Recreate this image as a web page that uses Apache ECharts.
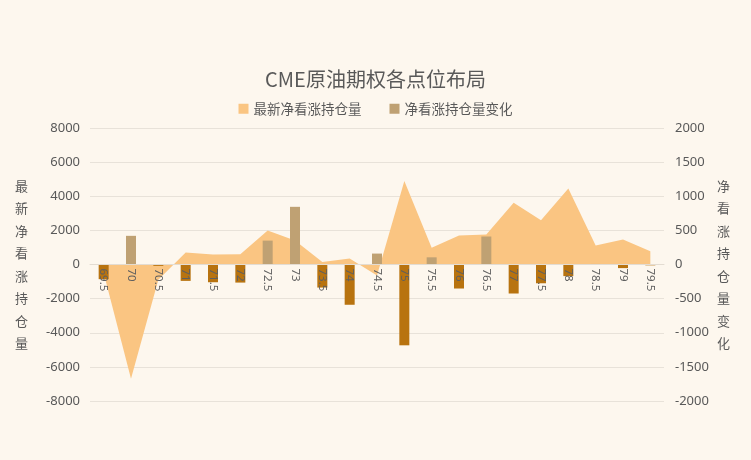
<!DOCTYPE html>
<html>
<head>
<meta charset="utf-8">
<script src="https://cdn.jsdelivr.net/npm/echarts@6/dist/echarts.min.js"></script>
<style>
html,body{margin:0;padding:0;background:#FDF7EE;}
#main{width:751px;height:460px;}
</style>
</head>
<body>
<div id="main"></div>
<script>
const categories = ['69.5','70','70.5','71','71.5','72','72.5','73','73.5','74','74.5','75','75.5','76','76.5','77','77.5','78','78.5','79','79.5'];
const netCallPosition = [-500,-6700,-900,700,580,600,2000,1400,150,350,-650,4900,980,1700,1760,3620,2600,4450,1110,1460,780];
const netCallChange = [-215,420,-20,-240,-260,-265,350,845,-338,-590,160,-1184,105,-352,410,-425,-275,-170,8,-53,-12];
const leftTicks = {min:-8000,max:8000,interval:2000};
const rightTicks = {min:-2000,max:2000,interval:500};

const textColor = '#595959';
const chart = echarts.init(document.getElementById('main'));
chart.setOption({
  backgroundColor:'#FDF7EE',
  title:{text:'CME原油期权各点位布局',left:'center',top:64,textStyle:{fontSize:20,fontWeight:'normal',color:textColor,fontFamily:'Noto Sans CJK SC'}},
  legend:{top:97,left:'center',itemWidth:10,itemHeight:10,itemGap:28,icon:'rect',
    textStyle:{fontSize:13.5,color:textColor,fontFamily:'Noto Sans CJK SC'},
    data:['最新净看涨持仓量','净看涨持仓量变化']},
  grid:{left:90,right:87,top:128,bottom:59,containLabel:false},
  xAxis:{type:'category',data:categories,boundaryGap:true,offset:-136.5,z:10,
    axisLine:{onZero:false,lineStyle:{color:'#E3DCD2'}},axisTick:{show:false},
    axisLabel:{rotate:-90,color:'#5f5f5f',fontSize:11.5,margin:4,interval:0,fontFamily:'Noto Sans'}},
  yAxis:[
    {type:'value',min:leftTicks.min,max:leftTicks.max,interval:leftTicks.interval,
      name:'最\n新\n净\n看\n涨\n持\n仓\n量',nameLocation:'middle',nameRotate:0,nameGap:62,
      nameTextStyle:{color:textColor,fontSize:13,lineHeight:22.5,fontFamily:'Noto Sans CJK SC'},
      axisLabel:{color:textColor,fontSize:13,margin:10,fontFamily:'Noto Sans',formatter:v=>String(v)},
      splitLine:{lineStyle:{color:'#E8E2D9'}},axisLine:{show:false},axisTick:{show:false}},
    {type:'value',min:rightTicks.min,max:rightTicks.max,interval:rightTicks.interval,
      name:'净\n看\n涨\n持\n仓\n量\n变\n化',nameLocation:'middle',nameRotate:0,nameGap:53,
      nameTextStyle:{color:textColor,fontSize:13,lineHeight:22.5,fontFamily:'Noto Sans CJK SC'},
      axisLabel:{color:textColor,fontSize:13,margin:11,fontFamily:'Noto Sans',formatter:v=>String(v)},
      splitLine:{show:false},axisLine:{show:false},axisTick:{show:false}}
  ],
  series:[
    {name:'最新净看涨持仓量',type:'line',yAxisIndex:0,data:netCallPosition,
      symbol:'none',lineStyle:{width:0},itemStyle:{color:'#FAC582'},
      areaStyle:{color:'#FAC582',opacity:1},z:1},
    {name:'净看涨持仓量变化',type:'bar',yAxisIndex:1,barWidth:10,
      itemStyle:{color:'#BFA173'},z:3,
      data:netCallChange.map(v=>({value:v,itemStyle:{color: v<0?'#B8730F':'#BFA173'}}))}
  ]
});
</script>
</body>
</html>
